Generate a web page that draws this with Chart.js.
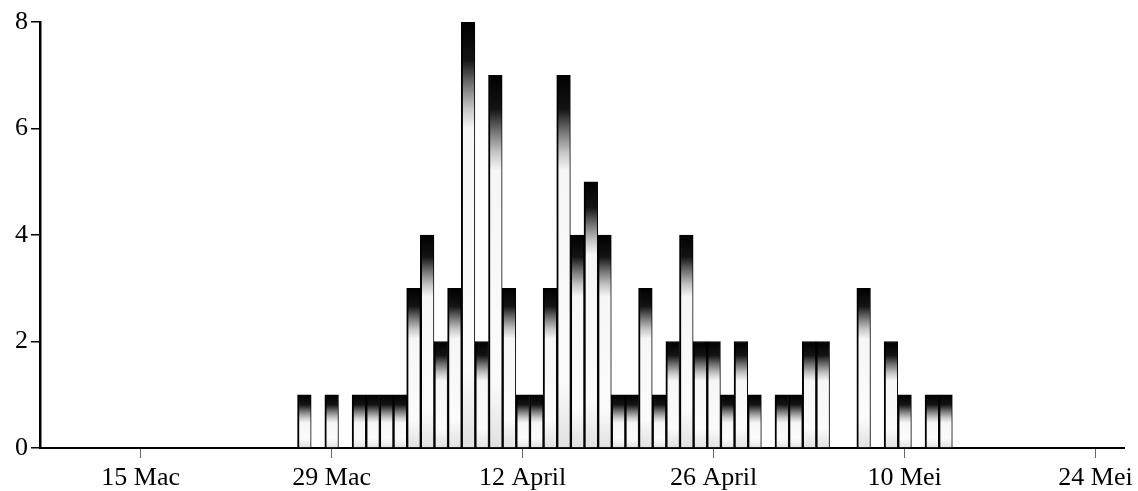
<!DOCTYPE html>
<html>
<head>
<meta charset="utf-8">
<script src="https://cdn.jsdelivr.net/npm/chart.js@4.4.1/dist/chart.umd.min.js"></script>
<style>
  html, body { margin: 0; padding: 0; background: #fff; }
  #wrap { width: 1138px; height: 491px; position: relative; }
</style>
</head>
<body>
<div id="wrap"><canvas id="c" width="1138" height="491"></canvas></div>
<script>
// Daily counts, consecutive days from 27 Mac to 13 Mei
const dates = [
  "27 Mac","28 Mac","29 Mac","30 Mac","31 Mac",
  "1 April","2 April","3 April","4 April","5 April","6 April","7 April","8 April","9 April","10 April",
  "11 April","12 April","13 April","14 April","15 April","16 April","17 April","18 April","19 April","20 April",
  "21 April","22 April","23 April","24 April","25 April","26 April","27 April","28 April","29 April","30 April",
  "1 Mei","2 Mei","3 Mei","4 Mei","5 Mei","6 Mei","7 Mei","8 Mei","9 Mei","10 Mei","11 Mei","12 Mei","13 Mei"
];
const counts = [
  1,0,1,0,1,
  1,1,1,3,4,2,3,8,2,7,
  3,1,1,3,7,4,5,4,1,1,
  3,1,2,4,2,2,1,2,1,0,
  1,1,2,2,0,0,3,0,2,1,0,1,1
];
// days after 15 Mac of the first date
const firstDayOffset = 12;
// x-axis tick labels and their day offsets (after 15 Mac)
const tickLabels = ["15 Mac","29 Mac","12 April","26 April","10 Mei","24 Mei"];
const tickDays = [0, 14, 28, 42, 56, 70];
const yTicks = [0, 2, 4, 6, 8];

const points = counts.map((v, i) => ({ x: firstDayOffset + i, y: v }));

function barFill(ctx) {
  const chart = ctx.chart;
  const area = chart.chartArea;
  if (!area || !ctx.raw) return '#fff';
  const ys = chart.scales.y;
  const v = ctx.raw.y;
  const top = ys.getPixelForValue(v);
  const bottom = ys.getPixelForValue(0);
  const h = bottom - top;
  if (h <= 1) return '#fff';
  const g = chart.ctx.createLinearGradient(0, top, 0, bottom);
  const solid = Math.min((6 + 4.0 * v) / h, 0.4);
  const fade = Math.min(solid * 2.8, 0.75);
  g.addColorStop(0, '#000');
  g.addColorStop(solid, '#141414');
  g.addColorStop(solid + (fade - solid) * 0.35, '#707070');
  g.addColorStop(solid + (fade - solid) * 0.7, '#c4c4c4');
  g.addColorStop(fade, '#f6f6f6');
  g.addColorStop(0.82, '#fbfbfb');
  g.addColorStop(1, '#e0e0e0');
  return g;
}

const serif = "'Liberation Serif', 'DejaVu Serif', serif";

new Chart(document.getElementById('c'), {
  type: 'bar',
  data: {
    datasets: [{
      label: 'Kes',
      data: points,
      backgroundColor: barFill,
      borderColor: '#000',
      borderWidth: { left: 2, right: 1, top: 1, bottom: 0 },
      borderSkipped: 'start',
      barPercentage: 1.0,
      categoryPercentage: 1.0
    }]
  },
  options: {
    responsive: false,
    animation: false,
    devicePixelRatio: 1,
    layout: { padding: { left: 0, right: 10, top: 22, bottom: 0 } },
    plugins: { legend: { display: false }, tooltip: { enabled: false }, title: { display: false } },
    scales: {
      x: {
        type: 'linear',
        offset: false,
        min: -7.38,
        max: 72.1,
        z: 1,
        afterFit: s => { s.height = 43; },
        afterBuildTicks: s => { s.ticks = tickDays.map(v => ({ value: v })); },
        border: { display: true, color: '#000', width: 2 },
        grid: { display: true, offset: false, drawOnChartArea: false, drawTicks: true, tickLength: 10, color: '#666', lineWidth: 1 },
        ticks: {
          autoSkip: false,
          maxRotation: 0,
          padding: 5,
          color: '#000',
          font: { family: serif, size: 26 },
          callback: (v) => { const i = tickDays.indexOf(v); return i >= 0 ? tickLabels[i] : ''; }
        }
      },
      y: {
        min: 0,
        max: 8,
        z: 1,
        afterFit: s => { s.width = 40; },
        afterBuildTicks: s => { s.ticks = yTicks.map(v => ({ value: v })); },
        border: { display: true, color: '#000', width: 2.5 },
        grid: { display: true, drawOnChartArea: false, drawTicks: true, tickLength: 9, color: '#000', lineWidth: 1.5 },
        ticks: {
          padding: 3,
          color: '#000',
          font: { family: serif, size: 26 },
          callback: v => String(v)
        }
      }
    }
  }
});
</script>
</body>
</html>
